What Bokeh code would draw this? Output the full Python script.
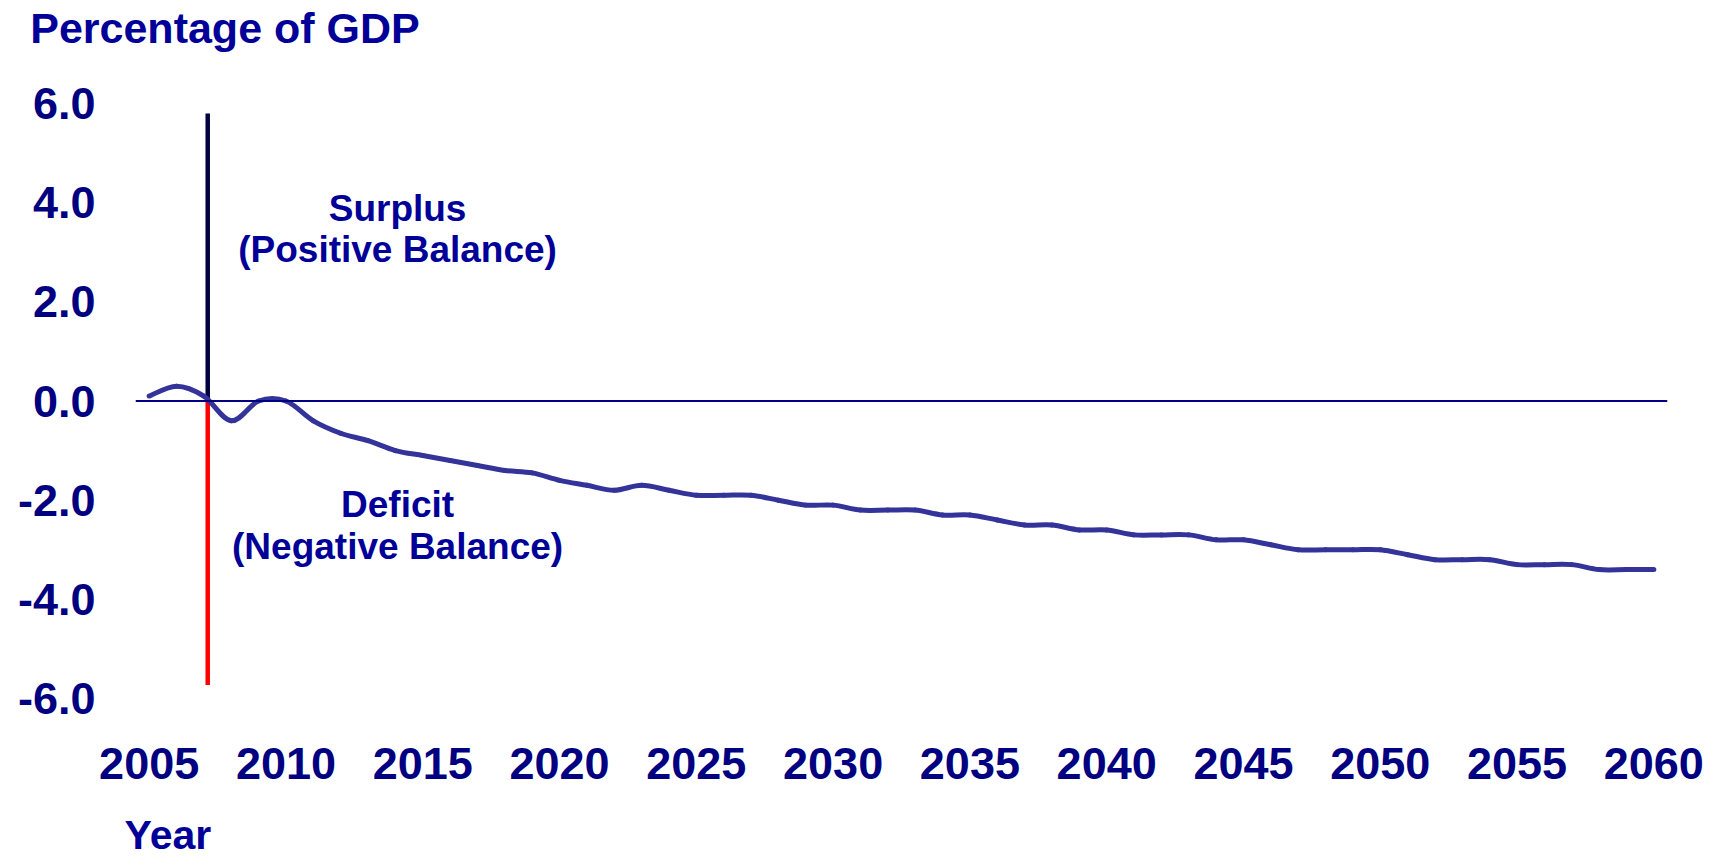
from bokeh.plotting import figure
from bokeh.models import (Range1d, FixedTicker, NumeralTickFormatter, Label, Span,
                          LinearAxis, CustomJSTickFormatter)
from bokeh.embed import file_html
from bokeh.resources import INLINE

# ---- data -------------------------------------------------------------
years = list(range(2005, 2061))
balance = [
    0.1, 0.3, 0.1, -0.4, 0.0, 0.0, -0.4, -0.65, -0.8, -1.0,        # 2005-2014
    -1.1, -1.2, -1.3, -1.4, -1.45, -1.6, -1.7, -1.8, -1.7, -1.8,    # 2015-2024
    -1.9, -1.9, -1.9, -2.0, -2.1, -2.1, -2.2, -2.2, -2.2, -2.3,     # 2025-2034
    -2.3, -2.4, -2.5, -2.5, -2.6, -2.6, -2.7, -2.7, -2.7, -2.8,     # 2035-2044
    -2.8, -2.9, -3.0, -3.0, -3.0, -3.0, -3.1, -3.2, -3.2, -3.2,     # 2045-2054
    -3.3, -3.3, -3.3, -3.4, -3.4, -3.4,                             # 2055-2060
]
x_ticks = [2005, 2010, 2015, 2020, 2025, 2030, 2035, 2040, 2045, 2050, 2055, 2060]
y_ticks = [-6, -4, -2, 0, 2, 4, 6]
current_year = 2007.14
surplus_top = 5.8
deficit_bottom = -5.73

NAVY = "#000080"
TEXT = "#000099"
FONT = "Liberation Sans"

p = figure(width=1719, height=860, output_backend="svg", toolbar_location=None,
           x_range=Range1d(2004.5, 2060.5), y_range=Range1d(-6, 6),
           min_border_left=135, min_border_right=52, min_border_top=103,
           min_border_bottom=161, background_fill_color="white",
           border_fill_color="white")
p.outline_line_color = None
p.xgrid.grid_line_color = None
p.ygrid.grid_line_color = None


def style_axis(ax, size, color):
    ax.axis_line_color = None
    ax.major_tick_line_color = None
    ax.minor_tick_line_color = None
    ax.major_tick_out = 0
    ax.major_tick_in = 0
    ax.major_label_text_font = FONT
    ax.major_label_text_font_style = "bold"
    ax.major_label_text_font_size = size
    ax.major_label_text_color = color


style_axis(p.xaxis[0], "45px", NAVY)
style_axis(p.yaxis[0], "45px", NAVY)
p.xaxis.ticker = FixedTicker(ticks=x_ticks)
p.xaxis.major_label_standoff = 49
p.yaxis.ticker = FixedTicker(ticks=y_ticks)
p.yaxis.formatter = NumeralTickFormatter(format="0.0")
p.yaxis.major_label_standoff = 40

# "Percentage of GDP" caption at the top-left
top_caption = LinearAxis(ticker=FixedTicker(ticks=[2007.77]),
                         formatter=CustomJSTickFormatter(code="return 'Percentage of GDP'"),
                         major_label_standoff=52)
style_axis(top_caption, "43px", TEXT)
p.add_layout(top_caption, "above")

# "Year" caption under the axis
year_caption = LinearAxis(ticker=FixedTicker(ticks=[2005.685]),
                          formatter=CustomJSTickFormatter(code="return 'Year'"),
                          major_label_standoff=30)
style_axis(year_caption, "41px", TEXT)
p.add_layout(year_caption, "below")

# zero line
p.add_layout(Span(location=0, dimension="width", line_color=NAVY, line_width=2))

# current-year divider
p.segment(x0=[current_year], y0=[0], x1=[current_year], y1=[deficit_bottom],
          line_color="#FF0000", line_width=4.5)
p.segment(x0=[current_year], y0=[0], x1=[current_year], y1=[surplus_top],
          line_color="#000040", line_width=4.5)

# balance line, drawn as a smoothed curve through the yearly values
n = len(years)
x0, y0, x1, y1, cx0, cy0, cx1, cy1 = ([] for _ in range(8))
for i in range(n - 1):
    xa, ya = years[i], balance[i]
    xb, yb = years[i + 1], balance[i + 1]
    xp, yp = (years[i - 1], balance[i - 1]) if i > 0 else (xa, ya)
    xn, yn = (years[i + 2], balance[i + 2]) if i + 2 < n else (xb, yb)
    x0.append(xa); y0.append(ya); x1.append(xb); y1.append(yb)
    cx0.append(xa + (xb - xp) / 6.0); cy0.append(ya + (yb - yp) / 6.0)
    cx1.append(xb - (xn - xa) / 6.0); cy1.append(yb - (yn - ya) / 6.0)
p.bezier(x0=x0, y0=y0, x1=x1, y1=y1, cx0=cx0, cy0=cy0, cx1=cx1, cy1=cy1,
         line_color="#333399", line_width=5, line_cap="round")


def lab(x, y, t, size, align="center"):
    p.add_layout(Label(x=x, y=y, text=t, text_font=FONT, text_font_style="bold",
                       text_font_size=size, text_color=TEXT, text_align=align,
                       text_baseline="alphabetic"))


lab(2014.08, 3.89, "Surplus", "37px")
lab(2014.08, 3.05, "(Positive Balance)", "37px")
lab(2014.08, -2.09, "Deficit", "37px")
lab(2014.08, -2.93, "(Negative Balance)", "37px")

open("out.html", "w").write(file_html(p, INLINE))
